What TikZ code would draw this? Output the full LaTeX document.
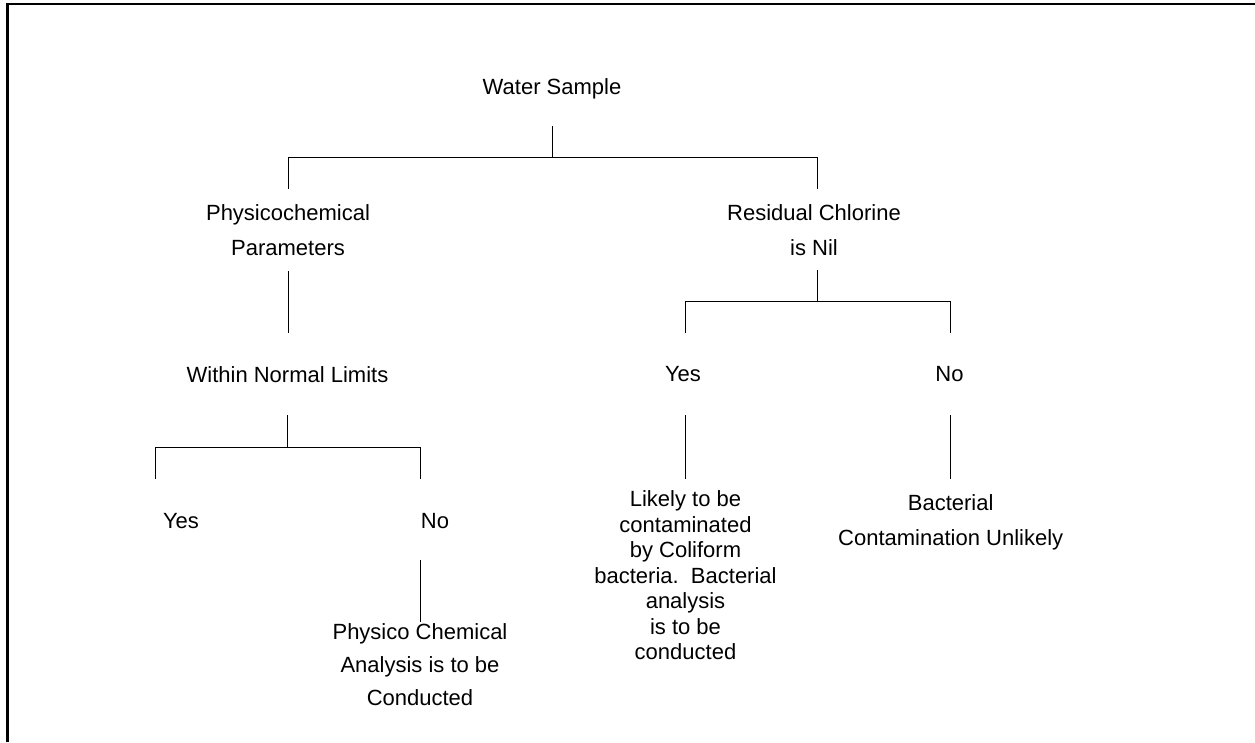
\documentclass[tikz,border=0pt]{standalone}
\usepackage{fontspec}
\setmainfont{Liberation Sans}
\tikzset{
  lbl/.style={align=center, inner sep=0pt, anchor=north, font=\fontsize{16.5}{26.5}\selectfont},
  conn/.style={line width=0.75pt, line cap=rect},
  frame/.style={line width=2pt}
}
\begin{document}
\begin{tikzpicture}[x=0.75pt,y=-0.75pt]
\useasboundingbox (0,0) rectangle (1255,742);
% frame
\coordinate (fTR) at (1255,4);
\coordinate (fBL) at (7.2,742);
\draw[frame] (fTR) -- (7.2,4) -- (fBL);

% labels (north = first baseline - 16px)
\node[lbl] (ws) at (552,78) {Water Sample};
\node[lbl] (pc) at (288,204) {Physicochemical\\Parameters};
\node[lbl] (rc) at (814,204) {Residual Chlorine\\is Nil};
\node[lbl] (wnl) at (287.5,366.7) {Within Normal Limits};
\node[lbl] (yes1) at (181,513) {Yes};
\node[lbl] (no1) at (435,513) {No};
\node[lbl, font=\fontsize{16.5}{24.75}\selectfont] (pca) at (420,623.3) {Physico Chemical\\Analysis is to be\\Conducted};
\node[lbl] (yes2) at (683,365.7) {Yes};
\node[lbl] (no2) at (949.5,365.7) {No};
\node[lbl, font=\fontsize{16.5}{19.1}\selectfont] (lik) at (685.5,490.7) {Likely to be\\contaminated\\by Coliform\\bacteria.\ \ Bacterial\\analysis\\is to be\\conducted};
\node[lbl] (bc) at (950.7,494) {Bacterial\\Contamination Unlikely};

% junction coordinates
\coordinate (wsB) at (552.7,126);
\coordinate (wsJ) at (552.7,157);
\coordinate (h1L) at (288,157);
\coordinate (h1R) at (817.7,157);
\coordinate (pcT) at (288,188);
\coordinate (rcT) at (817.7,188);

\coordinate (pcB) at (288,271.7);
\coordinate (wnlT) at (288,332);

\coordinate (rcB) at (817.7,270.7);
\coordinate (h2M) at (817.7,301.7);
\coordinate (h2L) at (685,301.7);
\coordinate (h2R) at (950.7,301.7);
\coordinate (yes2T) at (685,332.7);
\coordinate (no2T) at (950.7,332.7);

\coordinate (wnlB) at (287.7,415);
\coordinate (h3M) at (287.7,447.3);
\coordinate (h3L) at (155,447.3);
\coordinate (h3R) at (420.7,447.3);
\coordinate (yes1T) at (155,478.3);
\coordinate (no1T) at (420.7,478.3);

\coordinate (yes2B) at (685.3,415);
\coordinate (likT) at (685.3,478.3);
\coordinate (no2B) at (950.5,415);
\coordinate (bcT) at (950.5,478.3);

\coordinate (no1B) at (420.3,560);
\coordinate (pcaT) at (420.3,621.7);

% connectors
\draw[conn] (wsB) -- (wsJ);
\draw[conn] (pcT) -- (h1L) -- (h1R) -- (rcT);
\draw[conn] (pcB) -- (wnlT);
\draw[conn] (rcB) -- (h2M);
\draw[conn] (yes2T) -- (h2L) -- (h2R) -- (no2T);
\draw[conn] (wnlB) -- (h3M);
\draw[conn] (yes1T) -- (h3L) -- (h3R) -- (no1T);
\draw[conn] (yes2B) -- (likT);
\draw[conn] (no2B) -- (bcT);
\draw[conn] (no1B) -- (pcaT);
\end{tikzpicture}
\end{document}
